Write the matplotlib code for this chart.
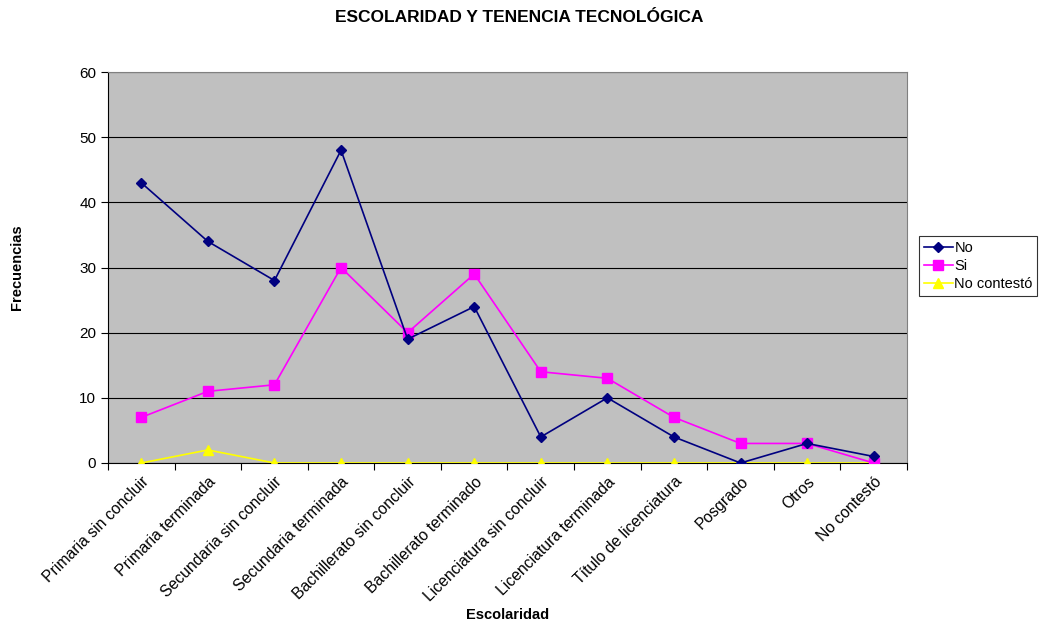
import numpy as np
import matplotlib.pyplot as plt

plt.rcParams.update({'font.family': 'Liberation Sans', 'font.size': 10})

categorias = ['Primaria sin concluir', 'Primaria terminada', 'Secundaria sin concluir',
              'Secundaria terminada', 'Bachillerato sin concluir', 'Bachillerato terminado',
              'Licenciatura sin concluir', 'Licenciatura terminada', 'Título de licenciatura',
              'Posgrado', 'Otros', 'No contestó']
no_vals = [43, 34, 28, 48, 19, 24, 4, 10, 4, 0, 3, 1]
si_vals = [7, 11, 12, 30, 20, 29, 14, 13, 7, 3, 3, 0]
nc_vals = [0, 2, 0, 0, 0, 0, 0, 0, 0, 0, 0, 0]

fig = plt.figure(figsize=(10.39, 6.21), dpi=100)
ax = fig.add_axes([108 / 1039, 1 - 463 / 621, 799 / 1039, 391 / 621])
ax.set_facecolor('#C0C0C0')

x = np.arange(len(categorias))
ax.plot(x, nc_vals, color='#FFFF00', marker='^', ms=7, lw=1.2, label='No contestó', zorder=3)
ax.plot(x, si_vals, color='#FF00FF', marker='s', ms=6.5, lw=1.2, label='Si', zorder=4)
ax.plot(x, no_vals, color='#000080', marker='D', ms=5, lw=1.2, label='No', zorder=5)

ax.set_xlim(-0.5, len(categorias) - 0.5)
ax.set_ylim(0, 60)
ax.set_yticks(range(0, 61, 10))
ax.yaxis.grid(True, color='black', lw=0.8)
ax.set_axisbelow(True)

ax.set_xticks(np.arange(-0.5, len(categorias), 1))
ax.set_xticklabels([])
ax.set_xticks(x, minor=True)
ax.set_xticklabels(categorias, minor=True, rotation=45, ha='right', rotation_mode='anchor',
                   fontsize=11.3)
ax.tick_params(axis='x', which='minor', length=0, pad=8)
ax.tick_params(axis='x', which='major', length=5, direction='out', color='black')
ax.tick_params(axis='y', length=5, direction='out', labelsize=11)

for s in ['top', 'right']:
    ax.spines[s].set_color('#808080')
for s in ['left', 'bottom']:
    ax.spines[s].set_color('black')

fig.text(508 / 1039, 1 - 615 / 621, 'Escolaridad', ha='center', va='center',
         fontweight='bold', fontsize=10.5)
fig.text(17 / 1039, 1 - 267 / 621, 'Frecuencias', rotation=90, ha='center', va='center',
         fontweight='bold', fontsize=10.5)
fig.text(0.5, 1 - 18 / 621, 'ESCOLARIDAD Y TENENCIA TECNOLÓGICA', ha='center',
         va='center', fontweight='bold', fontsize=12.5)

h, l = ax.get_legend_handles_labels()
leg = fig.legend(h[::-1], l[::-1], loc='center left',
                 bbox_to_anchor=(918 / 1039, 1 - 266 / 621), frameon=True,
                 fancybox=False, edgecolor='black', fontsize=10.5, handlelength=2.0,
                 borderpad=0.3, labelspacing=0.3, handletextpad=0.1,
                 borderaxespad=0.1)
leg.get_frame().set_linewidth(0.8)

fig.savefig('out.png', dpi=100)
